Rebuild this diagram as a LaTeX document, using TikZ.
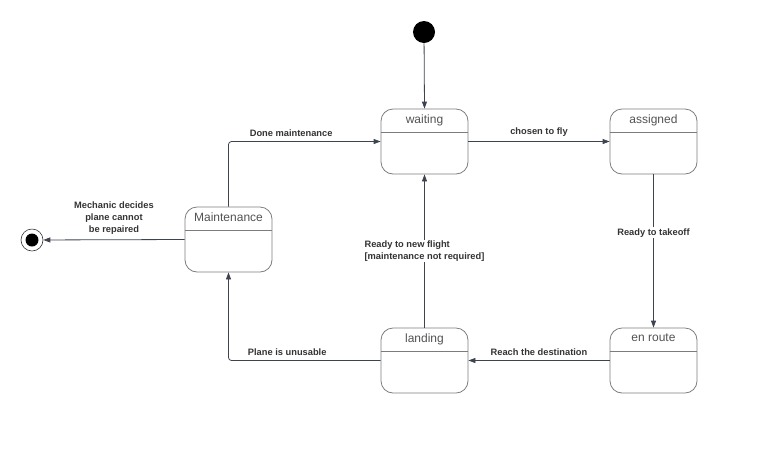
\documentclass[tikz,border=0pt]{standalone}
\usepackage{fontspec}
\setmainfont{Liberation Sans}
\usetikzlibrary{arrows.meta}
\definecolor{edge}{HTML}{3E4350}
\definecolor{frame}{HTML}{7C7C7C}
\definecolor{ink}{HTML}{333333}
\tikzstyle{state}=[draw=frame, rounded corners=12pt,
    minimum width=87pt, minimum height=65pt, inner sep=0pt]
\tikzstyle{title}=[below, yshift=-2.5pt, font=\fontsize{12}{14}\selectfont, text=ink!85]
\tikzstyle{divider}=[draw=frame]
\tikzstyle{lab}=[font=\bfseries\fontsize{9.3}{12}\selectfont, text=ink]

\begin{document}
\begin{tikzpicture}[x=1pt, y=-1pt, line width=0.8pt, >={Triangle[length=7pt,width=5pt]}]
  \useasboundingbox (0,0) rectangle (768,451);
  \node[circle, fill=black, minimum size=22pt, inner sep=0pt] at (424,32) (init) {};
  \node[circle, draw=ink, line width=0.6pt, minimum size=22pt, inner sep=0pt] at (32,240) (final) {};
  \node[circle, fill=black, minimum size=13pt, inner sep=0pt] at (final) (finaldot) {};

  \node[state] at (424.5,141.5) (wait) {};
  \node[state] at (653.5,141.5) (assign) {};
  \node[state] at (424.5,360.5) (land) {};
  \node[state] at (653.5,360.5) (route) {};
  \node[state] at (228.5,239.5) (maint) {};

  \node[title] at (wait.north) {waiting};
  \node[title] at (assign.north) {assigned};
  \node[title] at (land.north) {landing};
  \node[title] at (route.north) {en route};
  \node[title] at (maint.north) {Maintenance};
  \foreach \s in {wait,assign,land,route,maint}
    \draw[divider] ([yshift=-24pt]\s.north west) -- ([yshift=-24pt]\s.north east);

  \draw[->, edge] (init) -- (wait.north);
  \draw[->, edge] (wait.east) -- node[lab, above=1pt] {chosen to fly} (assign.west);
  \draw[->, edge] (assign.south) -- node[lab, fill=white, pos=0.38, inner sep=1pt] {Ready to takeoff} (route.north);
  \draw[->, edge] (route.west) -- node[lab, above=1pt] {Reach the destination} (land.east);
  \draw[->, edge] (land.north) -- node[lab, fill=white, align=left, inner sep=1pt] {Ready to new flight\\{}[maintenance not required]} (wait.south);
  \draw[->, edge, rounded corners=3pt] (land.west) -| node[lab, above=1pt, pos=0.307] {Plane is unusable} (maint.south);
  \draw[->, edge, rounded corners=3pt] (maint.north) |- node[lab, above=1pt, pos=0.706] {Done maintenance} (wait.west);
  \draw[->, edge] (maint.west) -- node[lab, above=2pt, align=center] {Mechanic decides\\plane cannot\\be repaired} (final);
\end{tikzpicture}
\end{document}
